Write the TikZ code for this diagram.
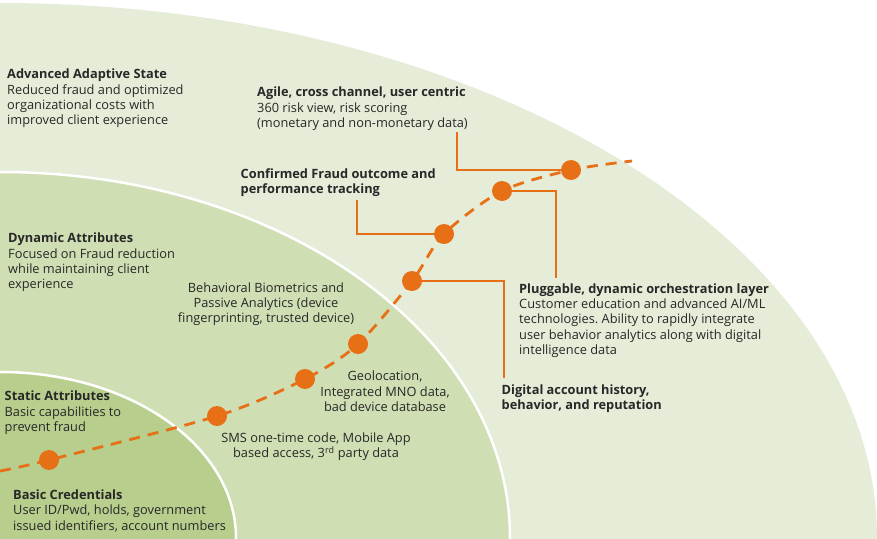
\documentclass[tikz,border=0pt]{standalone}
\usepackage{fontspec}
\setmainfont{Open Sans}
\frenchspacing
\definecolor{outergreen}{RGB}{229,236,215}
\definecolor{midgreen}{RGB}{208,222,180}
\definecolor{innergreen}{RGB}{183,206,141}
\definecolor{fraudorange}{RGB}{231,112,22}
\definecolor{textgrey}{RGB}{40,40,40}

\begin{document}
\begin{tikzpicture}
  [x=1pt, y=-1pt,
   dot/.style={circle, fill=fraudorange, minimum size=20pt, inner sep=0pt},
   link/.style={draw=fraudorange, line width=1.8pt},
   path line/.style={draw=fraudorange, line width=2.8pt, dash pattern=on 11pt off 8pt},
   ring/.style={draw=white, line width=2.5pt},
   blurb/.style={align=left, inner sep=0pt, anchor=north west, text=textgrey,
     font=\fontsize{12.8}{15.3}\selectfont, execute at begin node=\strut},
   centred blurb/.style={blurb, align=center, anchor=north}]

  \useasboundingbox (0,0) rectangle (877,538);

  % maturity zones
  \begin{scope}
    \clip (0,0) rectangle (877,538);
    \fill[outergreen] (0,538) ellipse [x radius=877, y radius=535];
    \filldraw[fill=midgreen, ring] (0,538) ellipse [x radius=510, y radius=366];
    \filldraw[fill=innergreen, ring] (0,538) ellipse [x radius=236, y radius=166];
  \end{scope}

  % zone texts
  \node[blurb] (advanced) at (7,69) {\textbf{Advanced Adaptive State}\\Reduced fraud and optimized\\organizational costs with\\improved client experience};
  \node[blurb] (dynamic) at (8,233) {\textbf{Dynamic Attributes}\\Focused on Fraud reduction\\while maintaining client\\experience};
  \node[blurb] (static) at (4.5,391) {\textbf{Static Attributes}\\Basic capabilities to\\prevent fraud};
  \node[blurb] (basic) at (13,489.5) {\textbf{Basic Credentials}\\User ID/Pwd, holds, government\\issued identifiers, account numbers};

  % capability texts
  \node[blurb] (agile) at (257,87) {\textbf{Agile, cross channel, user centric}\\360 risk view, risk scoring\\(monetary and non-monetary data)};
  \node[blurb] (confirmed) at (240.5,168.3) {\textbf{Confirmed Fraud outcome and}\\\textbf{performance tracking}};
  \node[blurb] (pluggable) at (519,283.3) {\textbf{Pluggable, dynamic orchestration layer}\\Customer education and advanced AI/ML\\technologies. Ability to rapidly integrate\\user behavior analytics along with digital\\intelligence data};
  \node[blurb] (digital) at (501.5,384.3) {\textbf{Digital account history,}\\\textbf{behavior, and reputation}};
  \node[centred blurb] (behavioral) at (266,282.3) {Behavioral Biometrics and\\Passive Analytics (device\\fingerprinting, trusted device)};
  \node[centred blurb] (geo) at (385,371) {Geolocation,\\Integrated MNO data,\\bad device database};
  \node[centred blurb] (sms) at (316,432.6) {SMS one-time code, Mobile App\\based access, 3\textsuperscript{rd} party data};

  % journey path
  \foreach \px/\py [count=\i] in {49/460, 217/416, 305/379, 358/344, 412/281, 444/234, 502/191, 571/170}
    \coordinate (p\i) at (\px,\py);
  \coordinate (path start) at (0,471);
  \coordinate (path end) at (632,161);
  \draw[path line] plot[smooth, tension=0.5] coordinates {(path start) (p1) (p2) (p3) (p4) (p5) (p6) (p7) (p8) (path end)};
  \foreach \i in {1,...,8}
    \node[dot] (d\i) at (p\i) {};

  % callouts
  \coordinate (agile end) at (457,132);
  \coordinate (confirmed end) at (357,200);
  \coordinate (pluggable end) at (556,278);
  \coordinate (digital end) at (504,378);
  \draw[link] (d8) -| (agile end);
  \draw[link] (confirmed end) |- (d6);
  \draw[link] (d7) -| (pluggable end);
  \draw[link] (d5) -| (digital end);
\end{tikzpicture}
\end{document}
